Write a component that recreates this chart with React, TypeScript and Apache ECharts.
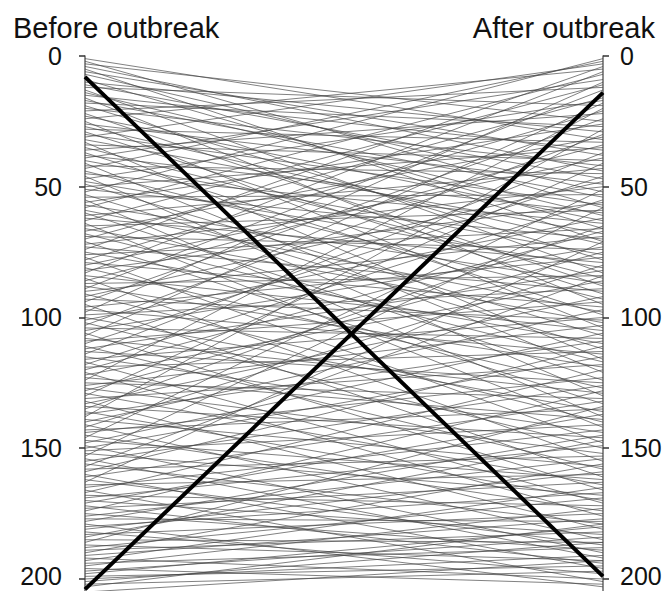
import React, { useEffect, useRef } from "react";
import * as echarts from "echarts";

// Rank before the outbreak (left axis) for each thin line
const beforeRanks: number[] = [
  1, 2, 3, 4, 5, 6, 7, 9, 10,
  11, 12, 13, 14, 15, 16, 17, 18, 19, 20,
  21, 22, 23, 24, 25, 26, 27, 28, 29, 30,
  31, 32, 33, 34, 35, 36, 37, 38, 39, 40,
  41, 42, 43, 44, 45, 46, 47, 48, 49, 50,
  51, 52, 53, 54, 55, 56, 57, 58, 59, 60,
  61, 62, 63, 64, 65, 66, 67, 68, 69, 70,
  71, 72, 73, 74, 75, 76, 77, 78, 79, 80,
  81, 82, 83, 84, 85, 86, 87, 88, 89, 90,
  91, 92, 93, 94, 95, 96, 97, 98, 99, 100,
  101, 102, 103, 104, 105, 106, 107, 108, 109, 110,
  111, 112, 113, 114, 115, 116, 117, 118, 119, 120,
  121, 122, 123, 124, 125, 126, 127, 128, 129, 130,
  131, 132, 133, 134, 135, 136, 137, 138, 139, 140,
  141, 142, 143, 144, 145, 146, 147, 148, 149, 150,
  151, 152, 153, 154, 155, 156, 157, 158, 159, 160,
  161, 162, 163, 164, 165, 166, 167, 168, 169, 170,
  171, 172, 173, 174, 175, 176, 177, 178, 179, 180,
  181, 182, 183, 184, 185, 186, 187, 188, 189, 190,
  191, 192, 193, 194, 195, 196, 197, 198, 199, 200,
  201, 202, 203, 205,
];

// Rank after the outbreak (right axis), same order as beforeRanks
const afterRanks: number[] = [
  32, 58, 25, 44, 71, 38, 52, 66, 29,
  47, 19, 83, 61, 36, 95, 54, 27, 78, 42,
  12, 88, 63, 5, 104, 49, 72, 33, 91, 57,
  3, 68, 116, 40, 85, 22, 99, 60, 9, 76,
  121, 45, 2, 93, 64, 130, 17, 81, 107, 35,
  70, 1, 112, 53, 138, 26, 87, 7, 98, 124,
  43, 79, 11, 142, 59, 102, 31, 117, 74, 16,
  133, 50, 90, 4, 110, 66, 148, 21, 96, 39,
  127, 56, 6, 105, 155, 34, 84, 119, 13, 69,
  140, 48, 101, 24, 161, 77, 114, 10, 89, 136,
  62, 150, 30, 108, 73, 166, 18, 129, 94, 46,
  158, 82, 125, 37, 144, 100, 171, 55, 113, 67,
  176, 86, 139, 20, 131, 103, 152, 75, 164, 41,
  118, 181, 92, 146, 65, 170, 109, 28, 157, 97,
  185, 80, 135, 123, 174, 51, 162, 106, 190, 115,
  141, 168, 58, 192, 126, 179, 84, 153, 111, 196,
  132, 187, 71, 160, 143, 201, 120, 172, 149, 183,
  137, 194, 163, 128, 189, 154, 178, 145, 203, 167,
  159, 198, 175, 147, 186, 134, 193, 169, 182, 156,
  177, 200, 165, 188, 173, 202, 184, 180, 195, 191,
  186, 197, 179, 193,
];

// Highlighted (thick) lines
const highlightBefore: number[] = [8, 204];
const highlightAfter: number[] = [199, 14];

const tickValues: number[] = [0, 50, 100, 150, 200];
const leftTitle = "Before outbreak";
const rightTitle = "After outbreak";

const FONT = "'Liberation Sans', Arial, sans-serif";

export default function App() {
  const ref = useRef<HTMLDivElement>(null);

  useEffect(() => {
    if (!ref.current) return;
    const chart = echarts.init(ref.current, undefined, { renderer: "svg" });

    const thinData = beforeRanks.map((b, i) => ({
      coords: [
        [0, b],
        [1, afterRanks[i]],
      ],
    }));
    const thickData = highlightBefore.map((b, i) => ({
      coords: [
        [0, b],
        [1, highlightAfter[i]],
      ],
    }));

    const lastTick = tickValues[tickValues.length - 1];

    const yAxisBase = (position: "left" | "right") => ({
      type: "value" as const,
      position,
      inverse: true,
      min: 0,
      max: 204.6,
      interval: 50,
      splitLine: { show: false },
      axisLine: { show: true, lineStyle: { color: "#666", width: 1.5 } },
      axisTick: {
        show: true,
        length: 6,
        lineStyle: { color: "#333", width: 1.5 },
        customValues: tickValues,
      },
      axisLabel: {
        show: true,
        margin: position === "left" ? 23 : 17,
        fontSize: 25,
        lineHeight: 22,
        color: "#111",
        fontFamily: FONT,
        customValues: tickValues,
        formatter: (v: number) => {
          if (!tickValues.includes(v)) return "";
          return v === lastTick ? `{e|${v}}` : String(v);
        },
        rich: {
          e: {
            fontSize: 25,
            lineHeight: 22,
            color: "#111",
            fontFamily: FONT,
            padding: [0, 0, 6, 0],
          },
        },
      },
    });

    chart.setOption({
      animation: false,
      backgroundColor: "#fff",
      title: [
        {
          text: leftTitle,
          left: 8,
          top: 8,
          textStyle: { fontSize: 29, fontWeight: "normal", color: "#111", fontFamily: FONT },
        },
        {
          text: rightTitle,
          right: 7,
          top: 8,
          textStyle: { fontSize: 29, fontWeight: "normal", color: "#111", fontFamily: FONT },
        },
      ],
      grid: {
        left: 85,
        right: 64,
        top: 56,
        bottom: 0,
        containLabel: false,
        outerBoundsMode: "none",
      },
      xAxis: { type: "value", min: 0, max: 1, show: false },
      yAxis: [yAxisBase("left"), yAxisBase("right")],
      series: [
        {
          type: "lines",
          coordinateSystem: "cartesian2d",
          xAxisIndex: 0,
          yAxisIndex: 0,
          silent: true,
          lineStyle: { color: "#444", width: 0.8, opacity: 0.85 },
          data: thinData,
        },
        {
          type: "lines",
          coordinateSystem: "cartesian2d",
          xAxisIndex: 0,
          yAxisIndex: 0,
          silent: true,
          lineStyle: { color: "#000", width: 4, opacity: 1 },
          data: thickData,
        },
      ],
    });

    return () => chart.dispose();
  }, []);

  return (
    <div
      ref={ref}
      style={{ position: "fixed", left: 0, top: 0, width: 667, height: 591 }}
    />
  );
}
